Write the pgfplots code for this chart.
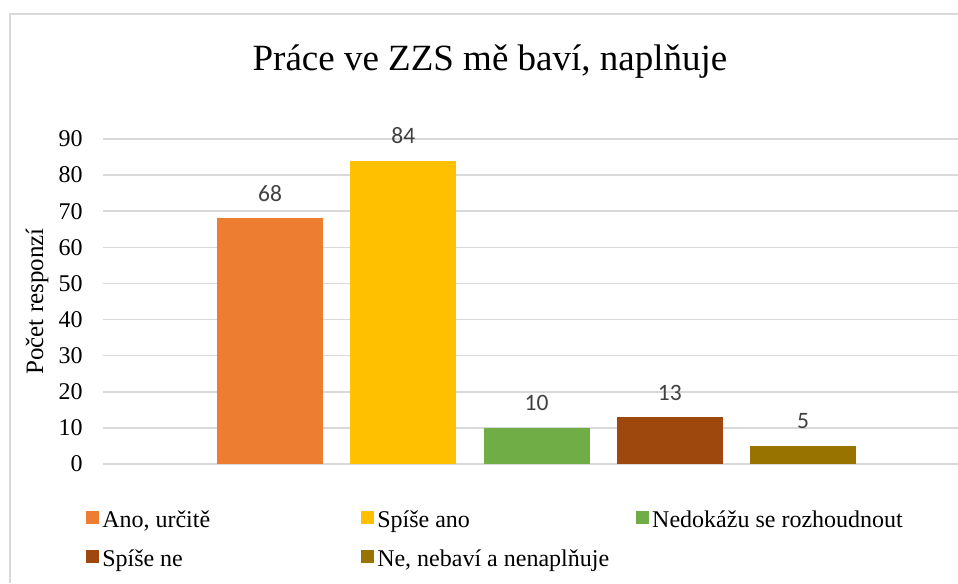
\documentclass[border=0pt]{standalone}
\usepackage{fontspec}
\setmainfont{Liberation Serif}
\newfontfamily\labelfont{Carlito}
\usepackage{pgfplots}
\pgfplotsset{compat=1.18}
\newlength{\pxu}
\setlength{\pxu}{0.75pt}
\definecolor{cOrange}{HTML}{ED7D31}
\definecolor{cYellow}{HTML}{FFC000}
\definecolor{cGreen}{HTML}{70AD47}
\definecolor{cBrown}{HTML}{9E480E}
\definecolor{cOlive}{HTML}{997300}
\definecolor{cGrid}{HTML}{D9D9D9}
\definecolor{cLab}{HTML}{404040}
\begin{document}
\begin{tikzpicture}
\useasboundingbox (0,0) rectangle (958\pxu,-583\pxu);
\draw[cGrid, line width=2\pxu] (10\pxu,-583\pxu) -- (10\pxu,-14\pxu) -- (958\pxu,-14\pxu);
\begin{axis}[
  at={(103\pxu,-464\pxu)}, anchor=south west,
  scale only axis, width=855\pxu, height=325\pxu,
  ybar, bar shift=0pt, bar width=106\pxu,
  xmin=-0.2533, xmax=6.163,
  ymin=0, ymax=90, ytick={0,10,...,90},
  xtick=\empty,
  axis line style={draw=none},
  major tick length=0pt,
  ymajorgrids, grid style={cGrid, line width=1.5\pxu},
  clip=false,
  yticklabel style={font=\fontsize{24\pxu}{28\pxu}\selectfont, inner sep=0pt, xshift=-20\pxu, anchor=east},
  /pgf/number format/assume math mode=true,
  ylabel={Počet responzí},
  every axis y label/.style={at={([xshift=-66\pxu]rel axis cs:0,0.5)}, rotate=90, anchor=center, font=\fontsize{25\pxu}{30\pxu}\selectfont},
  title={Práce ve ZZS mě baví, naplňuje},
  every axis title/.style={at={(rel axis cs:0.4526,1.212)}, anchor=base, font=\fontsize{37\pxu}{44\pxu}\selectfont},
  nodes near coords,
  every node near coord/.append style={font=\labelfont\fontsize{23.5\pxu}{27\pxu}\selectfont, text=cLab, anchor=base, yshift=17\pxu, inner sep=0pt},
  legend columns=3,
  legend image code/.code={\fill[#1,draw=none] (0,3.5\pxu) rectangle (13\pxu,16.5\pxu);},
  legend style={at={(-0.0199,-0.1415)}, anchor=north west, draw=none, fill=none, inner sep=0pt, row sep=16\pxu, column sep=0pt, font=\fontsize{24\pxu}{28\pxu}\selectfont, nodes={inner sep=0pt, text height=17\pxu, text depth=6\pxu, anchor=base}},
]
\addplot[fill=cOrange, draw=none, bar shift=0pt] coordinates {(1,68)};
\addlegendentry{\makebox[262\pxu][l]{\hspace{3\pxu}Ano, určitě}}
\addplot[fill=cYellow, draw=none, bar shift=0pt] coordinates {(2,84)};
\addlegendentry{\makebox[262\pxu][l]{\hspace{3\pxu}Spíše ano}}
\addplot[fill=cGreen, draw=none, bar shift=0pt] coordinates {(3,10)};
\addlegendentry{\hspace{3\pxu}Nedokážu se rozhoudnout}
\addplot[fill=cBrown, draw=none, bar shift=0pt] coordinates {(4,13)};
\addlegendentry{\makebox[262\pxu][l]{\hspace{3\pxu}Spíše ne}}
\addplot[fill=cOlive, draw=none, bar shift=0pt] coordinates {(5,5)};
\addlegendentry{\makebox[262\pxu][l]{\hspace{3\pxu}Ne, nebaví a nenaplňuje}}
\end{axis}
\end{tikzpicture}
\end{document}
